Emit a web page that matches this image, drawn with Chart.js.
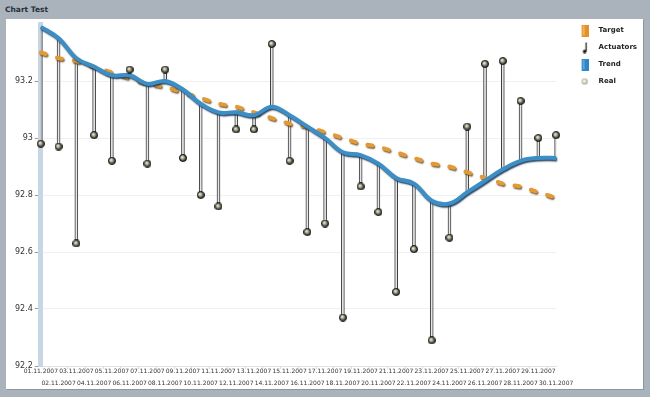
<!DOCTYPE html>
<html>

<head>
  <title>Chart Test</title>
  <script src="https://cdn.jsdelivr.net/npm/chart.js"></script>
  <style type="text/css">
    body {
      margin: 0;
      width: 650px;
      height: 397px;
      overflow: hidden;
      background-color: #aab3bb;
      font-family: "DejaVu Sans", sans-serif;
    }

    .title {
      position: absolute;
      left: 5px;
      top: 5px;
      font-size: 7.5px;
      font-weight: bold;
      color: #26303a;
    }

    .panel {
      position: absolute;
      left: 6px;
      top: 19px;
      width: 637px;
      height: 370px;
      background-color: #fff;
      box-shadow: 1px 1px 0 #8d979f;
    }
  </style>
</head>

<body>
  <div class="title">Chart Test</div>
  <div class="panel">
    <canvas id="myChart" width="637" height="370"></canvas>
  </div>

  <script>
    const days = ['01.11.2007', '02.11.2007', '03.11.2007', '04.11.2007', '05.11.2007', '06.11.2007',
      '07.11.2007', '08.11.2007', '09.11.2007', '10.11.2007', '11.11.2007', '12.11.2007',
      '13.11.2007', '14.11.2007', '15.11.2007', '16.11.2007', '17.11.2007', '18.11.2007',
      '19.11.2007', '20.11.2007', '21.11.2007', '22.11.2007', '23.11.2007', '24.11.2007',
      '25.11.2007', '26.11.2007', '27.11.2007', '28.11.2007', '29.11.2007', '30.11.2007'];
    const realValues = [92.98, 92.97, 92.63, 93.01, 92.92, 93.24, 92.91, 93.24, 92.93, 92.80,
      92.76, 93.03, 93.03, 93.33, 92.92, 92.67, 92.70, 92.37, 92.83, 92.74,
      92.46, 92.61, 92.29, 92.65, 93.04, 93.26, 93.27, 93.13, 93.00, 93.01];
    const trendValues = [93.39, 93.35, 93.28, 93.25, 93.22, 93.22, 93.19, 93.20, 93.17, 93.12,
      93.09, 93.09, 93.08, 93.11, 93.08, 93.04, 93.00, 92.95, 92.94, 92.91,
      92.86, 92.84, 92.78, 92.77, 92.81, 92.85, 92.89, 92.92, 92.93, 92.93];
    const targetValues = [93.30, 93.28, 93.27, 93.25, 93.23, 93.21, 93.19, 93.18, 93.16, 93.14,
      93.12, 93.11, 93.09, 93.07, 93.05, 93.04, 93.02, 93.00, 92.98, 92.97,
      92.95, 92.93, 92.91, 92.90, 92.88, 92.86, 92.84, 92.83, 92.81, 92.79];
    const yTickValues = [92.2, 92.4, 92.6, 92.8, 93, 93.2];

    // 작은 아이콘들 (범례, 점)
    function makeIcon(w, h, draw) {
      const c = document.createElement('canvas');
      c.width = w;
      c.height = h;
      draw(c.getContext('2d'));
      return c;
    }

    const ballIcon = makeIcon(8, 8, function (g) {
      const grad = g.createRadialGradient(3, 3, 0.3, 4, 4, 4);
      grad.addColorStop(0, '#f4f4e4');
      grad.addColorStop(0.35, '#a8a892');
      grad.addColorStop(1, '#000');
      g.fillStyle = grad;
      g.beginPath();
      g.arc(4, 4, 3.6, 0, Math.PI * 2);
      g.fill();
      g.strokeStyle = '#111';
      g.lineWidth = 0.8;
      g.stroke();
    });
    // 범례 아이콘은 오른쪽으로 치우쳐 그림 (16px 폭)
    const smallBallIcon = makeIcon(16, 8, function (g) {
      const grad = g.createRadialGradient(11.5, 3.5, 0.5, 12, 4, 3.5);
      grad.addColorStop(0, '#fbfbee');
      grad.addColorStop(0.5, '#cfcfb8');
      grad.addColorStop(1, '#6a6a5a');
      g.fillStyle = grad;
      g.beginPath();
      g.arc(12, 4, 3, 0, Math.PI * 2);
      g.fill();
    });
    const targetIcon = makeIcon(16, 12, function (g) {
      g.fillStyle = '#e3922a';
      g.fillRect(9, 0, 7, 12);
      g.fillStyle = '#f0b25a';
      g.fillRect(10, 1, 2, 10);
    });
    const trendIcon = makeIcon(16, 12, function (g) {
      g.fillStyle = '#2f86c4';
      g.fillRect(9, 0, 7, 12);
      g.fillStyle = '#5aa7dc';
      g.fillRect(10, 1, 2, 10);
    });
    const actuatorIcon = makeIcon(16, 12, function (g) {
      g.strokeStyle = '#111';
      g.lineWidth = 1.2;
      g.beginPath();
      g.moveTo(13.5, 1);
      g.lineTo(13.5, 10);
      g.stroke();
      g.fillStyle = '#111';
      g.beginPath();
      g.arc(12, 10, 1.8, 0, Math.PI * 2);
      g.fill();
    });
    const legendIcons = [targetIcon, actuatorIcon, trendIcon, smallBallIcon];

    // 그림자 플러그인
    const shadowPlugin = {
      id: 'shadow',
      beforeDatasetDraw(chart, args) {
        const ds = chart.data.datasets[args.index];
        if (ds.shadowColor) {
          const ctx = chart.ctx;
          ctx.save();
          ctx.shadowColor = ds.shadowColor;
          ctx.shadowBlur = 1.5;
          ctx.shadowOffsetX = 1;
          ctx.shadowOffsetY = 1.5;
        }
      },
      afterDatasetDraw(chart, args) {
        if (chart.data.datasets[args.index].shadowColor) {
          chart.ctx.restore();
        }
      }
    };

    var ctx = document.getElementById('myChart').getContext('2d');
    var myChart = new Chart(ctx, {
      type: 'line',
      data: {
        labels: days,
        datasets: [{
          label: 'Target',
          data: targetValues,
          borderColor: '#e39a32',
          borderWidth: 4,
          borderDash: [5, 12],
          borderCapStyle: 'round',
          pointRadius: 0,
          fill: false,
          shadowColor: 'rgba(90, 60, 20, 0.8)',
          clip: 8,
          order: 2
        }, {
          type: 'bar',
          label: 'Actuators',
          data: days.map((d, i) => [trendValues[i], realValues[i]]),
          backgroundColor: '#e6e6e6',
          borderColor: '#3a3a3a',
          borderWidth: 1,
          borderSkipped: false,
          barThickness: 3,
          order: 3
        }, {
          label: 'Trend',
          data: trendValues,
          borderColor: '#3b8fc6',
          borderWidth: 4,
          tension: 0.4,
          pointRadius: 0,
          fill: false,
          shadowColor: 'rgba(20, 50, 80, 0.9)',
          clip: 8,
          order: 1
        }, {
          label: 'Real',
          data: realValues,
          showLine: false,
          pointStyle: ballIcon,
          pointRadius: 4,
          clip: 8,
          order: 0
        }]
      },
      options: {
        responsive: false,
        animation: false,
        layout: { padding: { left: 7, top: -2, right: -4, bottom: 4 } },
        plugins: {
          tooltip: { enabled: false },
          legend: {
            position: 'right',
            align: 'start',
            labels: {
              usePointStyle: true,
              pointStyleWidth: 29,
              padding: 10,
              color: '#222',
              font: { family: 'DejaVu Sans', size: 7, weight: 'bold' },
              generateLabels: function (chart) {
                return chart.data.datasets.map(function (ds, i) {
                  return {
                    text: ds.label,
                    datasetIndex: i,
                    pointStyle: legendIcons[i],
                    fillStyle: 'transparent',
                    strokeStyle: 'transparent',
                    lineWidth: 0,
                    fontColor: '#222',
                    hidden: false
                  };
                });
              }
            }
          }
        },
        scales: {
          x: {
            offset: false,
            grid: { drawOnChartArea: false, tickLength: 3, color: '#d9d9d9' },
            border: { color: '#e2e2e2' },
            ticks: {
              autoSkip: false,
              maxRotation: 0,
              minRotation: 0,
              padding: -1,
              color: '#333',
              font: { family: 'DejaVu Sans', size: 6, lineHeight: 1 },
              // 두 줄로 엇갈리게 표시
              callback: function (v, i) {
                return i % 2 ? ['', '', days[i]] : days[i];
              }
            }
          },
          y: {
            min: 92.2,
            max: 93.4,
            afterBuildTicks: function (scale) {
              scale.ticks = yTickValues.map(v => ({ value: v }));
            },
            afterFit: function (scale) {
              scale.paddingTop = 2;
            },
            grid: { color: '#f0f0f0', tickLength: 6, tickColor: '#9a9a9a' },
            border: { width: 5, color: '#c7d6e5' },
            ticks: {
              padding: 2,
              color: '#333',
              font: { family: 'DejaVu Sans', size: 8 },
              callback: v => String(v)
            }
          }
        }
      },
      plugins: [shadowPlugin]
    });
  </script>
</body>

</html>
